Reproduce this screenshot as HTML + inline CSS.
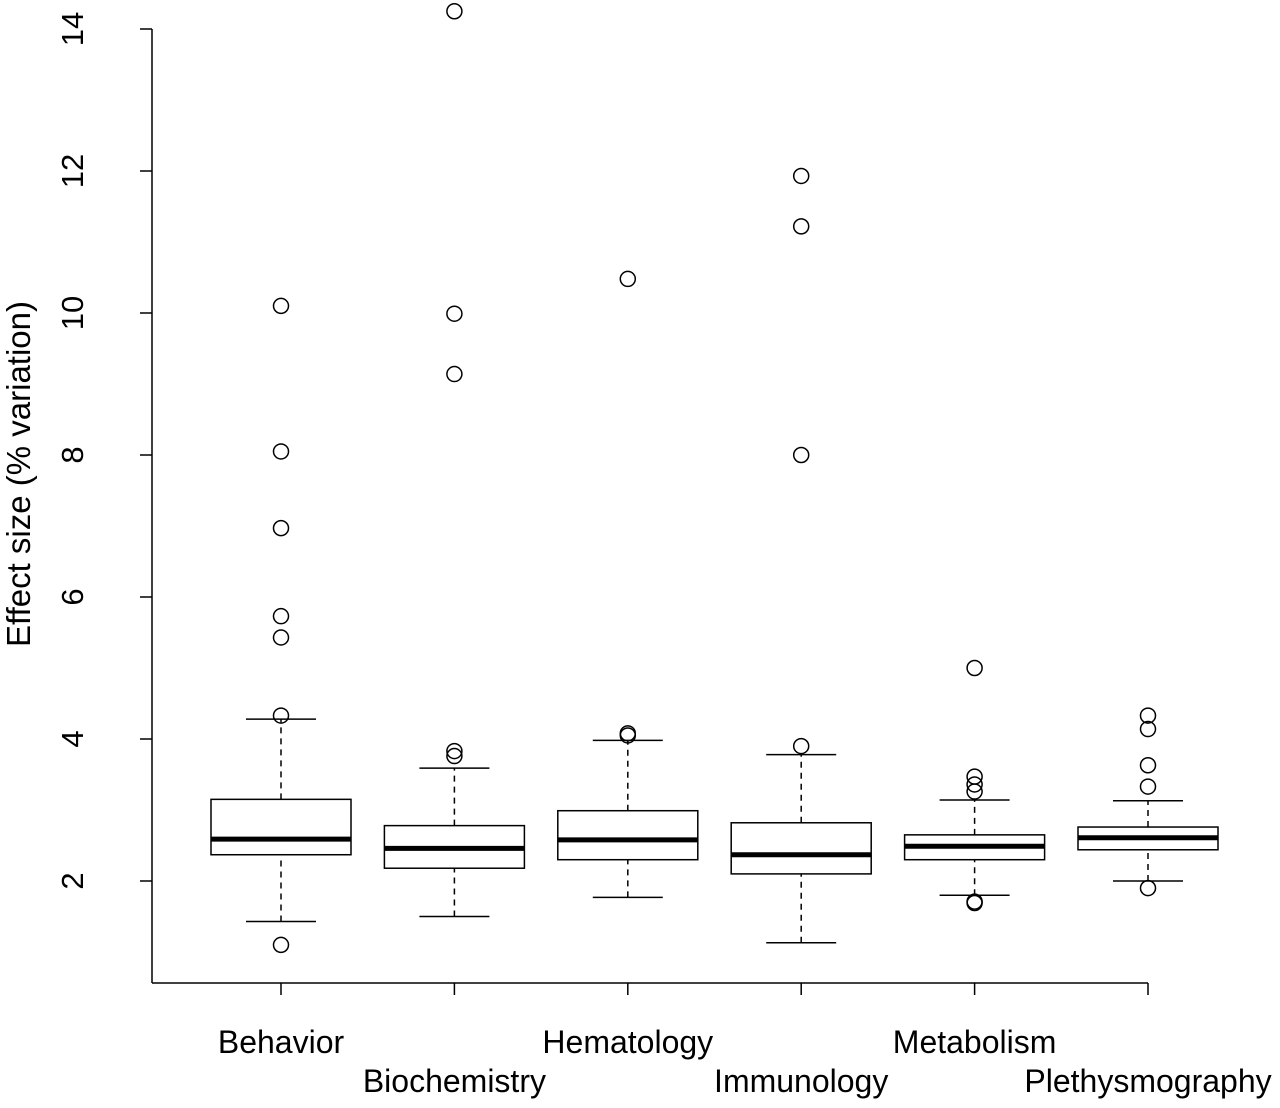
<!DOCTYPE html>
<html><head><meta charset="utf-8"><style>
html,body{margin:0;padding:0;background:#fff}
svg text{font-family:"Liberation Sans",Arial,sans-serif;fill:#000}
</style></head><body>
<svg id="chart" width="1280" height="1103" viewBox="0 0 1280 1103" xmlns="http://www.w3.org/2000/svg">
<g id="axes"></g><g id="boxes"></g>
</svg>
<script>
const categories=["Behavior","Biochemistry","Hematology","Immunology","Metabolism","Plethysmography"];
const whiskerLow=[1.43,1.5,1.77,1.13,1.8,2.0];
const q1=[2.37,2.18,2.3,2.1,2.3,2.44];
const medians=[2.59,2.46,2.58,2.37,2.49,2.61];
const q3=[3.15,2.78,2.99,2.82,2.65,2.76];
const whiskerHigh=[4.28,3.59,3.98,3.78,3.14,3.13];
const outliers=[[1.1,4.33,5.43,5.73,6.97,8.05,10.1],[3.76,3.83,9.14,9.99,14.25],[4.05,4.08,10.48],[3.9,8.0,11.22,11.93],[1.69,1.71,3.26,3.36,3.47,5.0],[1.9,3.33,3.63,4.14,4.33]];
const yTicks=[2,4,6,8,10,12,14];
const NS="http://www.w3.org/2000/svg";
const y=v=>881-(v-2)*71;
const x=i=>281+i*173.4;
function mk(parent,tag,attrs){const e=document.createElementNS(NS,tag);for(const k in attrs)e.setAttribute(k,attrs[k]);parent.appendChild(e);return e;}
const axes=document.getElementById('axes'),boxes=document.getElementById('boxes');
let yl=mk(axes,'line',{x1:152,x2:152,y1:y(14),y2:y(2),stroke:'#000','stroke-width':1.5});


yTicks.forEach(t=>{
  let tk=mk(axes,'line',{x1:140,x2:152,y1:y(t),y2:y(t),stroke:'#000','stroke-width':1.5});
  
  
  let tl=mk(axes,'text',{x:0,y:0,'font-size':31,'text-anchor':'middle',transform:`translate(83,${y(t)}) rotate(-90)`});
  tl.textContent=t;
  
  
});
let yt=mk(axes,'text',{x:0,y:0,'font-size':33,'text-anchor':'middle',transform:'translate(30,474) rotate(-90)'});
yt.textContent='Effect size (% variation)';


let xl=mk(axes,'line',{x1:x(0),x2:x(5),y1:983,y2:983,stroke:'#000','stroke-width':1.5});


let bx=mk(axes,'line',{x1:152,x2:152,y1:y(2),y2:983,stroke:'#000','stroke-width':1.5});


let hx=mk(axes,'line',{x1:152,x2:x(0),y1:983,y2:983,stroke:'#000','stroke-width':1.5});


categories.forEach((c,i)=>{
  const cx=x(i);
  let tk=mk(axes,'line',{x1:cx,x2:cx,y1:983,y2:995,stroke:'#000','stroke-width':1.5});
  
  
  let tl=mk(axes,'text',{x:cx,y:i%2?1092:1053,'font-size':32,'text-anchor':'middle'});
  tl.textContent=c;
  
  
  const g=mk(boxes,'g',{});
  
  
  mk(g,'line',{x1:cx,x2:cx,y1:y(whiskerLow[i]),y2:y(q1[i]),stroke:'#000','stroke-width':1.5,'stroke-dasharray':'6,5'});
  mk(g,'line',{x1:cx,x2:cx,y1:y(q3[i]),y2:y(whiskerHigh[i]),stroke:'#000','stroke-width':1.5,'stroke-dasharray':'6,5'});
  mk(g,'line',{x1:cx-35,x2:cx+35,y1:y(whiskerLow[i]),y2:y(whiskerLow[i]),stroke:'#000','stroke-width':1.5});
  mk(g,'line',{x1:cx-35,x2:cx+35,y1:y(whiskerHigh[i]),y2:y(whiskerHigh[i]),stroke:'#000','stroke-width':1.5});
  mk(g,'rect',{x:cx-70,y:y(q3[i]),width:140,height:y(q1[i])-y(q3[i]),fill:'#fff',stroke:'#000','stroke-width':1.5});
  mk(g,'line',{x1:cx-70,x2:cx+70,y1:y(medians[i]),y2:y(medians[i]),stroke:'#000','stroke-width':5});
  outliers[i].forEach(v=>{
    let o=mk(g,'circle',{cx:cx,cy:y(v),r:7.5,fill:'none',stroke:'#000','stroke-width':1.5});
    
    
  });
});
</script>
</body></html>
